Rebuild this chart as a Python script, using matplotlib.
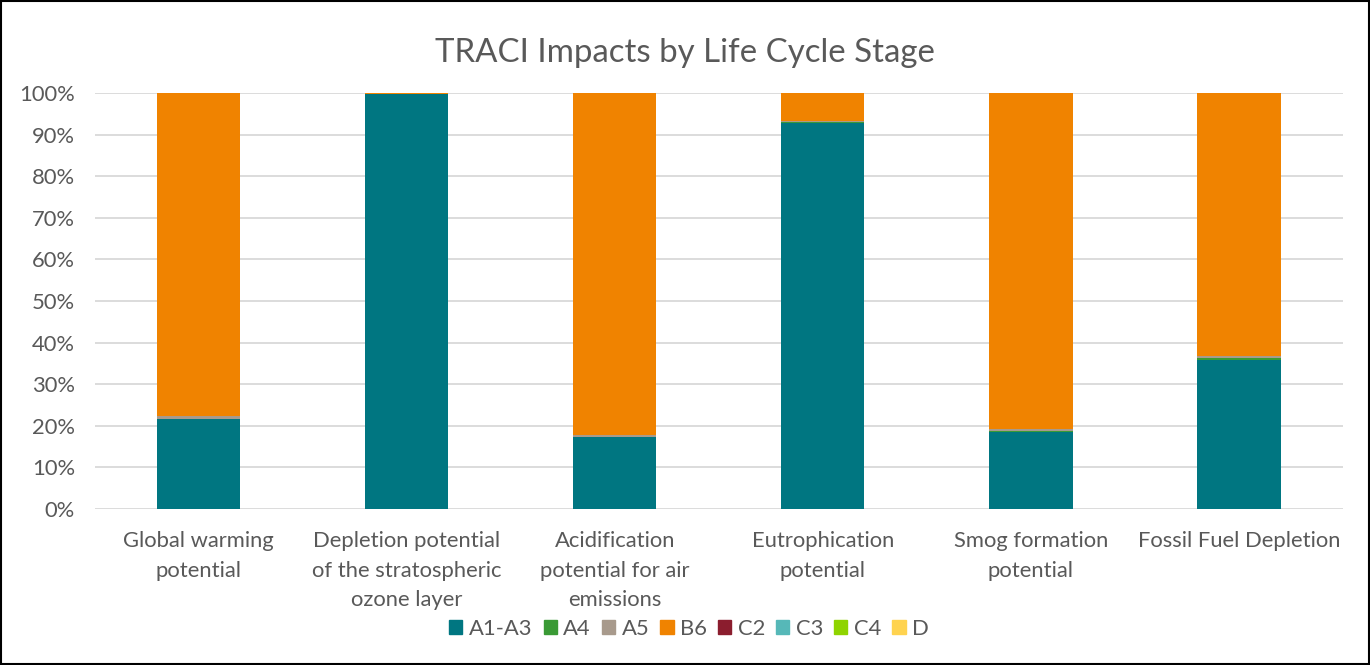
import matplotlib.pyplot as plt
import numpy as np
from matplotlib.patches import Rectangle

categories = ["Global warming\npotential",
              "Depletion potential\nof the stratospheric\nozone layer",
              "Acidification\npotential for air\nemissions",
              "Eutrophication\npotential",
              "Smog formation\npotential",
              "Fossil Fuel Depletion"]

stages = ["A1-A3", "A4", "A5", "B6", "C2", "C3", "C4", "D"]

# percent share of each stage per impact category
a1_a3 = [21.6, 99.8, 17.3, 92.9, 18.5, 35.9]
a4 = [0.1, 0.0, 0.1, 0.1, 0.3, 0.4]
a5 = [0.6, 0.05, 0.4, 0.2, 0.5, 0.6]
b6 = [77.7, 0.15, 82.2, 6.8, 80.7, 63.1]
c2 = [0.0, 0.0, 0.0, 0.0, 0.0, 0.0]
c3 = [0.0, 0.0, 0.0, 0.0, 0.0, 0.0]
c4 = [0.0, 0.0, 0.0, 0.0, 0.0, 0.0]
d = [0.0, 0.0, 0.0, 0.0, 0.0, 0.0]

colors = ["#007681", "#3A9A35", "#A89A8C", "#F08300",
          "#8B1D2E", "#56B8B8", "#8FD400", "#FFD34F"]

plt.rcParams['font.family'] = ['Lato', 'DejaVu Sans']

fig = plt.figure(figsize=(13.7, 6.65), dpi=100)
ax = fig.add_axes([0.0690, 0.2346, 0.9113, 0.6254])

x = np.arange(len(categories))
series = [a1_a3, a4, a5, b6, c2, c3, c4, d]
bottom = np.zeros(len(categories))
handles = []
for name, vals, col in zip(stages, series, colors):
    vals = np.array(vals)
    ax.bar(x, vals / 100, 0.4, bottom=bottom / 100, color=col, zorder=3)
    bottom += vals
    handles.append(Rectangle((0, 0), 1, 1, color=col, label=name))

ax.set_xlim(-0.5, len(categories) - 0.5)
ax.set_ylim(0, 1)
ax.set_yticks(np.arange(0, 1.01, 0.1))
ax.set_yticklabels([f"{int(round(v * 100))}%" for v in np.arange(0, 1.01, 0.1)])
ax.set_xticks(x)
ax.set_xticklabels(categories, linespacing=1.6)
ax.yaxis.grid(True, color="#D9D9D9", linewidth=1.3, zorder=0)
for s in ax.spines.values():
    s.set_visible(False)
ax.tick_params(axis='both', length=0, colors="#595959", labelsize=15.8)
ax.tick_params(axis='x', pad=16)
ax.tick_params(axis='y', pad=14)

fig.text(0.5, 0.921, "TRACI Impacts by Life Cycle Stage", ha='center', va='center',
         fontsize=23.8, color="#595959")

fig.legend(handles=handles, loc='center', bbox_to_anchor=(0.503, 0.054), ncol=8,
           frameon=False, fontsize=15.8, handlelength=0.6, handleheight=0.6,
           handletextpad=0.3, columnspacing=0.5, labelcolor="#595959")

fig.patches.append(Rectangle((0.001, 0.0015), 0.998, 0.997, transform=fig.transFigure,
                             fill=False, edgecolor='black', linewidth=1.5))

fig.savefig("out.png", dpi=100)
